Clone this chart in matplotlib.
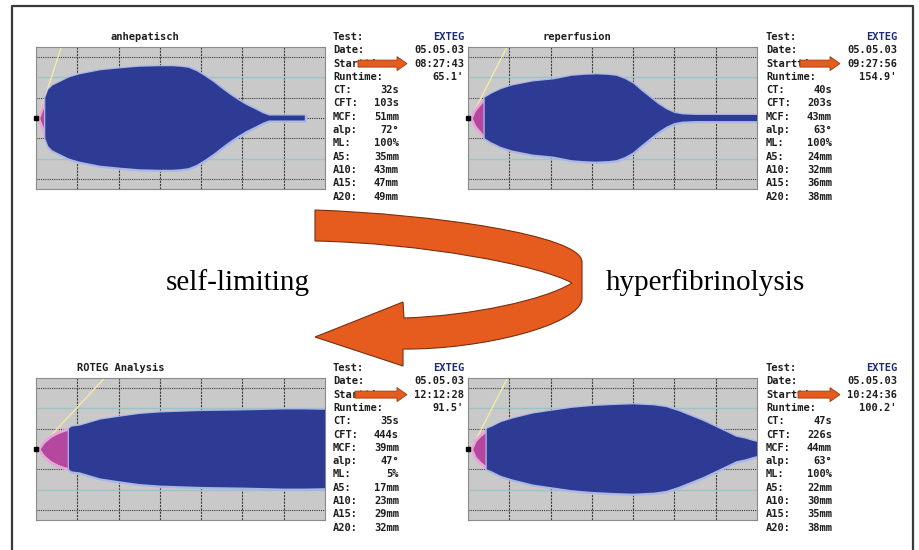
import matplotlib
matplotlib.use("Agg")
import matplotlib.pyplot as plt
import numpy as np
from matplotlib.path import Path
from matplotlib.patches import PathPatch, FancyArrow

W, H = 920, 550

# clot amplitude traces: time in minutes, amplitude in mm
anhep_t = [0, 0.53, 1.4, 2.25, 3.0, 4.0, 5.53, 8.0, 10.53, 15.53, 20.53, 25, 30, 33, 35,
           37, 39, 41, 43, 45, 47, 49, 51, 53, 55, 56.5, 65.1]
anhep_amp = [0, 0, 9, 20, 28, 32, 35, 40, 43, 47, 49, 50.5, 51, 51, 50.5,
             49.4, 46, 41, 35.4, 29, 23, 17.6, 12.7, 8.8, 4.6, 2.4, 2.4]

reperf_t = [0, 0.67, 1.5, 2.5, 4.05, 5.67, 8, 10.67, 15.67, 20.67, 25, 28, 31, 34, 36,
            38, 40, 42, 44, 46, 48, 50, 52, 55, 70]
reperf_amp = [0, 0, 7.5, 12.5, 20, 24, 28.5, 32, 36, 38, 41.5, 42.5, 43, 42.5, 41.5,
              38.5, 34, 27, 20.5, 14, 8.7, 5, 3.5, 3, 3]

roteg_t = [0, 0.58, 1.8, 3.4, 5.0, 5.58, 6.6, 7.98, 8.6, 10.58, 15.58, 20.58, 25, 30, 35,
           40, 45, 50, 55, 60, 65, 70]
roteg_amp = [0, 0, 7, 12.5, 16, 17, 18.5, 20, 22, 23, 29, 32, 34.5, 36, 36.7,
             37.4, 37.7, 38, 38.5, 39, 39, 38.6]

late_t = [0, 0.78, 1.7, 2.9, 4.1, 4.55, 5.78, 8, 10.78, 15.78, 20.78, 25, 30, 35, 40,
          45, 48, 51, 54, 57, 60, 63, 65, 67, 69, 70]
late_amp = [0, 0, 8.5, 13.5, 17.5, 20, 22, 26.5, 30, 35, 38, 40.5, 42.3, 43.3, 44,
            43, 41.3, 37.4, 32.5, 27.6, 21.8, 16, 12, 10.4, 8, 7]

titles = ["anhepatisch", "reperfusion", "ROTEG Analysis", ""]
start_times = ["08:27:43", "09:27:56", "12:12:28", "10:24:36"]
runtimes = ["65.1'", "154.9'", "91.5'", "100.2'"]
ct_s = [32, 40, 35, 47]
cft_s = [103, 203, 444, 226]
mcf_mm = [51, 43, 39, 44]
alp_deg = [72, 63, 47, 63]
ml_pct = [100, 100, 5, 100]
a5 = [35, 24, 17, 22]
a10 = [43, 32, 23, 30]
a15 = [47, 36, 29, 35]
a20 = [49, 38, 32, 38]
test_name = "EXTEG"
test_date = "05.05.03"

traces = [(anhep_t, anhep_amp), (reperf_t, reperf_amp),
          (roteg_t, roteg_amp), (late_t, late_amp)]

# screen layout (pixels, y downwards)
grid_x = [36, 468, 36, 468]
grid_y = [47, 47, 378, 378]
grid_w, grid_h = 289, 142
label_x = [333, 766, 333, 766]
row_top = [37, 37, 368, 368]
title_x = [145, 577, 121, 0]
small_arrow_x0 = [358, 800, 355, 798]
row_step = 13.3

BLUE = "#2d3b94"
HALO = "#a9b6e6"
MAGENTA = "#b6479e"
PINK = "#e6a6d6"
ORANGE = "#e65c1f"
TXT = "#1e1e1e"
MONO = dict(family="DejaVu Sans Mono", fontweight="bold", fontsize=7.5)

fig = plt.figure(figsize=(W / 100, H / 100), dpi=100)
fig.patch.set_facecolor("white")

for i in range(4):
    t = np.array(traces[i][0], dtype=float)
    amp = np.array(traces[i][1], dtype=float)
    x0, y0 = grid_x[i], grid_y[i]
    ax = fig.add_axes([x0 / W, 1 - (y0 + grid_h) / H, grid_w / W, grid_h / H])
    ax.set_facecolor("#c9c9c9")
    ax.set_xlim(0, 70)
    ax.set_ylim(-35, 35)
    ax.set_xticks([])
    ax.set_yticks([])
    for s in ax.spines.values():
        s.set_color("#8a8a8a")
        s.set_linewidth(0.8)

    for xv in range(10, 70, 10):
        ax.axvline(xv, color="#3c3c3c", lw=0.8, ls=(0, (2, 1)), zorder=1)
    for yv in (-30, -10, 0, 10, 30):
        ax.axhline(yv, color="#3c3c3c", lw=0.8, ls=(0, (1, 1)), zorder=1)
    for yv in (-20, 20):
        ax.axhline(yv, color="#9cc3c6", lw=1.0, zorder=1)

    # alpha angle tangent from the clotting time point
    ct_min = ct_s[i] / 60
    px_min = grid_w / 70
    px_mm = grid_h / 70
    dt = 35 * px_mm / np.tan(np.radians(alp_deg[i])) / px_min
    ax.plot([ct_min, ct_min + dt], [0, 35], color="#f3eaa8", lw=1.0, zorder=1.5)

    # clot formation part (CT .. CT+CFT) in magenta, the rest in blue
    t_cf = (ct_s[i] + cft_s[i]) / 60
    early = t <= t_cf + 0.01
    late = t >= t[early][-1]
    ax.fill_between(t[early], -amp[early] / 2, amp[early] / 2, facecolor=MAGENTA,
                    edgecolor=PINK, lw=2.0, zorder=2)
    ax.fill_between(t[late], -amp[late] / 2, amp[late] / 2, facecolor=HALO,
                    edgecolor=HALO, lw=2.5, zorder=2)
    ax.fill_between(t[late], -amp[late] / 2, amp[late] / 2, facecolor=BLUE,
                    edgecolor="none", zorder=3)
    ax.plot(t[0], 0, "s", color="black", ms=3.5, clip_on=False, zorder=4)

# overlay in pixel coordinates for text, arrows and frame
ov = fig.add_axes([0, 0, 1, 1])
ov.set_xlim(0, W)
ov.set_ylim(H, 0)
ov.axis("off")
ov.patch.set_alpha(0)
ov.set_zorder(5)

ov.plot([12, 12, 913, 913], [H, 6, 6, H], color="#3a3a3a", lw=1.6)

labels = ["Test:", "Date:", "Starttime:", "Runtime:", "CT:", "CFT:", "MCF:", "alp:",
          "ML:", "A5:", "A10:", "A15:", "A20:"]
for i in range(4):
    lx, ry = label_x[i], row_top[i]
    head = [test_name, test_date, start_times[i], runtimes[i]]
    vals = [f"{ct_s[i]}s", f"{cft_s[i]}s", f"{mcf_mm[i]}mm", f"{alp_deg[i]}°",
            f"{ml_pct[i]}%", f"{a5[i]}mm", f"{a10[i]}mm", f"{a15[i]}mm", f"{a20[i]}mm"]
    for k, lab in enumerate(labels):
        y = ry + k * row_step
        ov.text(lx, y, lab, ha="left", va="center", color=TXT, **MONO)
        if k < 4:
            col = "#1c2a7a" if k == 0 else TXT
            ov.text(lx + 131, y, head[k], ha="right", va="center", color=col, **MONO)
        else:
            ov.text(lx + 66, y, vals[k - 4], ha="right", va="center", color=TXT, **MONO)
    if titles[i]:
        ov.text(title_x[i], ry, titles[i], ha="center", va="center", color=TXT, **MONO)
    ys = ry + 2 * row_step
    x0 = small_arrow_x0[i]
    ov.add_patch(FancyArrow(x0, ys, lx + 74 - x0, 0, width=7, head_width=14,
                            head_length=10, length_includes_head=True,
                            facecolor=ORANGE, edgecolor="#9a3b12", lw=0.6, zorder=6))

# big curved arrow between the rows
verts = [(315, 210),
         (430, 214), (582, 235), (582, 262),
         (582, 298),
         (582, 325), (480, 350), (403, 349),
         (403, 366), (315, 337), (403, 302), (404, 318),
         (470, 316), (545, 300), (572, 283),
         (540, 265), (420, 243), (315, 241),
         (315, 210)]
codes = ([Path.MOVETO] + [Path.CURVE4] * 3 + [Path.LINETO] + [Path.CURVE4] * 3 +
         [Path.LINETO] * 4 + [Path.CURVE4] * 6 + [Path.CLOSEPOLY])
ov.add_patch(PathPatch(Path(verts, codes), facecolor=ORANGE, edgecolor="#7a2e0e",
                       lw=0.8, zorder=4))

serif = dict(family="Liberation Serif", fontsize=21, color="black")
ov.text(310, 290, "self-limiting", ha="right", va="baseline", **serif)
ov.text(606, 290, "hyperfibrinolysis", ha="left", va="baseline", **serif)

fig.savefig("out.png", dpi=100, facecolor="white")
